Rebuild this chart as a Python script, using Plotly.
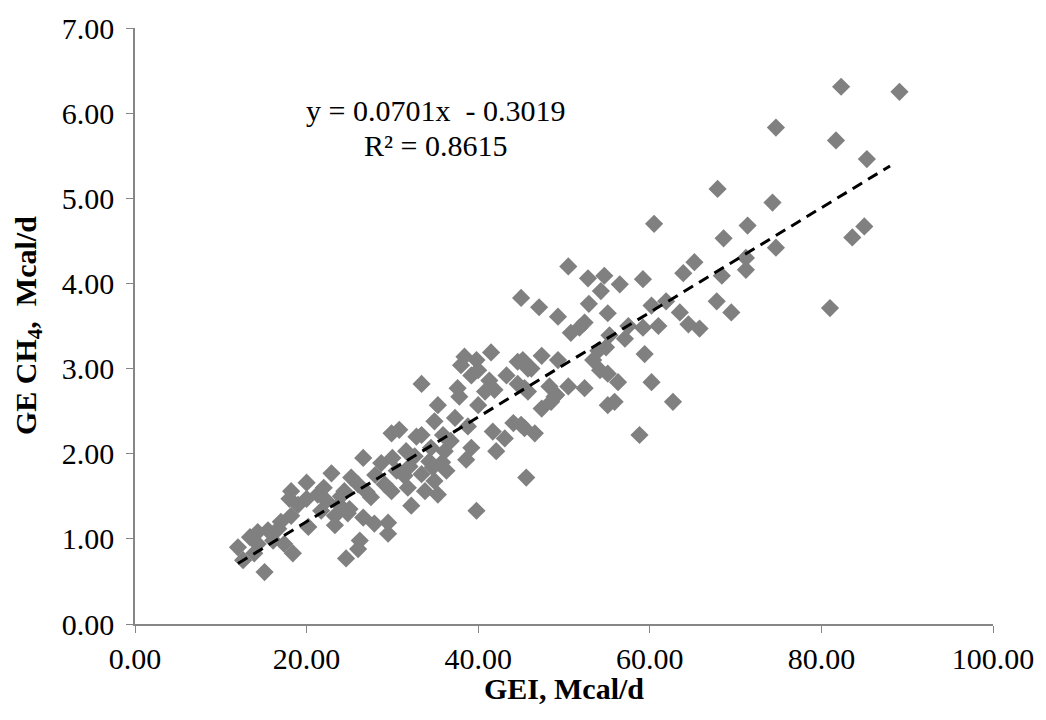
import plotly.graph_objects as go

# GEI (Mcal/d) and GE CH4 (Mcal/d)
gei = [82.3, 89.1, 74.7, 81.7, 85.3, 67.9, 74.3, 60.5, 71.4, 68.6, 85.0, 83.6, 74.7, 65.2, 63.9,
       59.2, 71.2, 71.2, 68.4, 61.9, 60.2, 63.5, 67.8, 69.5, 81.0, 59.2, 61.0, 64.5, 65.8, 59.4,
       60.2, 62.7, 58.8,
       50.5, 52.8, 54.7, 54.3, 56.5, 45.0, 47.1, 49.3, 52.9, 55.1, 52.4, 50.8, 51.8, 57.5, 55.3,
       57.1, 54.0, 53.4, 54.9, 54.2, 55.1, 56.3, 55.1, 55.9, 45.2, 47.4, 49.3, 46.2, 45.4, 48.3,
       50.5, 52.4, 49.1, 47.4, 48.5, 45.0, 46.6,
       41.5, 38.4, 39.8, 38.0, 40.0, 39.2, 44.6, 45.8, 43.3, 41.3, 37.6, 37.8, 41.9, 40.8, 40.0,
       45.8, 44.6, 48.9, 35.3, 34.9, 37.3, 38.8, 41.7, 44.1, 45.4, 43.1, 35.9, 39.2, 38.6, 42.1,
       33.4, 33.4, 34.5, 36.1, 34.7, 36.3, 45.6,
       30.8, 29.9, 32.8, 26.6, 28.7, 31.6, 32.6, 34.3, 30.5, 31.4, 33.4, 34.9, 25.2, 26.0, 29.1,
       29.9, 31.8, 33.8, 35.3, 24.4, 27.5, 32.2, 25.0, 26.6, 27.9, 29.5, 29.5, 39.8, 26.2,
       28.0, 30.0, 27.0, 32.0, 35.8, 36.8,
       22.9, 20.0, 18.2, 18.0, 20.0, 21.3, 22.3, 23.8, 18.2, 20.2, 21.7, 23.3, 23.3, 24.8, 16.7,
       15.5, 14.3, 13.4, 12.0, 12.6, 16.1, 17.4, 18.4, 14.3, 13.9, 15.1, 24.6, 26.0,
       19.0, 17.0, 22.0, 24.0]
ch4 = [6.31, 6.25, 5.83, 5.68, 5.46, 5.11, 4.95, 4.70, 4.68, 4.53, 4.67, 4.54, 4.42, 4.25, 4.12,
       4.05, 4.30, 4.16, 4.09, 3.79, 3.74, 3.66, 3.79, 3.66, 3.71, 3.48, 3.50, 3.52, 3.47, 3.17,
       2.84, 2.61, 2.22,
       4.20, 4.06, 4.09, 3.91, 3.99, 3.83, 3.72, 3.61, 3.76, 3.65, 3.54, 3.42, 3.48, 3.50, 3.39,
       3.35, 3.21, 3.10, 3.25, 2.98, 2.94, 2.84, 2.57, 2.61, 3.10, 3.15, 3.10, 3.00, 2.77, 2.79,
       2.79, 2.77, 2.69, 2.53, 2.61, 2.34, 2.24,
       3.19, 3.14, 3.10, 3.04, 2.98, 2.92, 3.08, 3.00, 2.92, 2.86, 2.77, 2.67, 2.75, 2.73, 2.57,
       2.73, 2.82, 2.67, 2.57, 2.38, 2.42, 2.32, 2.26, 2.36, 2.30, 2.18, 2.22, 2.07, 1.93, 2.03,
       2.82, 2.22, 2.07, 2.03, 1.84, 1.80, 1.72,
       2.28, 2.24, 2.20, 1.95, 1.89, 2.03, 1.97, 1.91, 1.80, 1.74, 1.76, 1.68, 1.72, 1.64, 1.64,
       1.56, 1.60, 1.56, 1.52, 1.56, 1.49, 1.39, 1.35, 1.25, 1.18, 1.19, 1.06, 1.33, 0.98,
       1.75, 1.95, 1.55, 1.85, 1.90, 2.15,
       1.77, 1.66, 1.56, 1.47, 1.47, 1.52, 1.45, 1.40, 1.27, 1.14, 1.33, 1.27, 1.16, 1.30, 1.12,
       1.10, 1.08, 1.02, 0.90, 0.75, 0.98, 0.94, 0.83, 0.94, 0.83, 0.61, 0.77, 0.88,
       1.40, 1.20, 1.60, 1.50]

# Linear trendline as drawn in the picture (endpoints)
trend_x = [12.0, 88.0]
trend_y = [0.71, 5.38]

x_ticks = [0, 20, 40, 60, 80, 100]
y_ticks = [0, 1, 2, 3, 4, 5, 6, 7]
equation_text = "y = 0.0701x  - 0.3019"
r2_text = "R² = 0.8615"

FONT = "Liberation Serif, Times New Roman, serif"
FS = 30
AXIS_COLOR = "#868686"

fig = go.Figure()
fig.add_trace(go.Scatter(
    x=gei, y=ch4, mode="markers",
    marker=dict(symbol="diamond", size=14, color="#808080", line=dict(width=0)),
    showlegend=False, hoverinfo="x+y"))
fig.add_trace(go.Scatter(
    x=trend_x, y=trend_y, mode="lines",
    line=dict(color="black", width=3, dash="11px,7px"),
    showlegend=False, hoverinfo="skip"))

fig.update_layout(
    width=1046, height=720,
    margin=dict(l=127, r=61, t=20, b=104),
    paper_bgcolor="white", plot_bgcolor="white",
    font=dict(family=FONT, size=FS, color="black"),
    xaxis=dict(range=[0, 100], tickvals=x_ticks,
               ticktext=[f"{v:.2f}" for v in x_ticks],
               showgrid=False, zeroline=False, showline=True, linecolor=AXIS_COLOR,
               linewidth=1.5, ticks="outside", ticklen=7, tickcolor=AXIS_COLOR,
               automargin=False, ticklabeloverflow="allow",
               tickfont=dict(family=FONT, size=FS)),
    yaxis=dict(range=[0, 7], tickvals=y_ticks,
               ticktext=[f"{v:.2f}" for v in y_ticks],
               showgrid=False, zeroline=False, showline=True, linecolor=AXIS_COLOR,
               linewidth=1.5, ticks="outside", ticklen=7, tickcolor=AXIS_COLOR,
               ticklabelstandoff=6, automargin=False, ticklabeloverflow="allow",
               tickfont=dict(family=FONT, size=FS)),
    annotations=[
        dict(text="<b>GEI, Mcal/d</b>", xref="paper", yref="paper", x=0.5, y=-0.108,
             xanchor="center", yanchor="middle", showarrow=False,
             font=dict(family=FONT, size=FS)),
        dict(text="<b>GE CH<sub>4</sub>,  Mcal/d</b>", xref="paper", yref="paper",
             x=-0.1247, y=0.5, xanchor="center", yanchor="middle", textangle=-90,
             showarrow=False, font=dict(family=FONT, size=FS)),
        dict(text=equation_text, xref="paper", yref="paper", x=(437 - 137) / 858,
             y=(621 - 103) / 601, xanchor="center", yanchor="middle", showarrow=False,
             font=dict(family=FONT, size=FS)),
        dict(text=r2_text, xref="paper", yref="paper", x=(437 - 137) / 858,
             y=(621 - 138) / 601, xanchor="center", yanchor="middle", showarrow=False,
             font=dict(family=FONT, size=FS)),
    ],
)

fig.write_html("out.html")
